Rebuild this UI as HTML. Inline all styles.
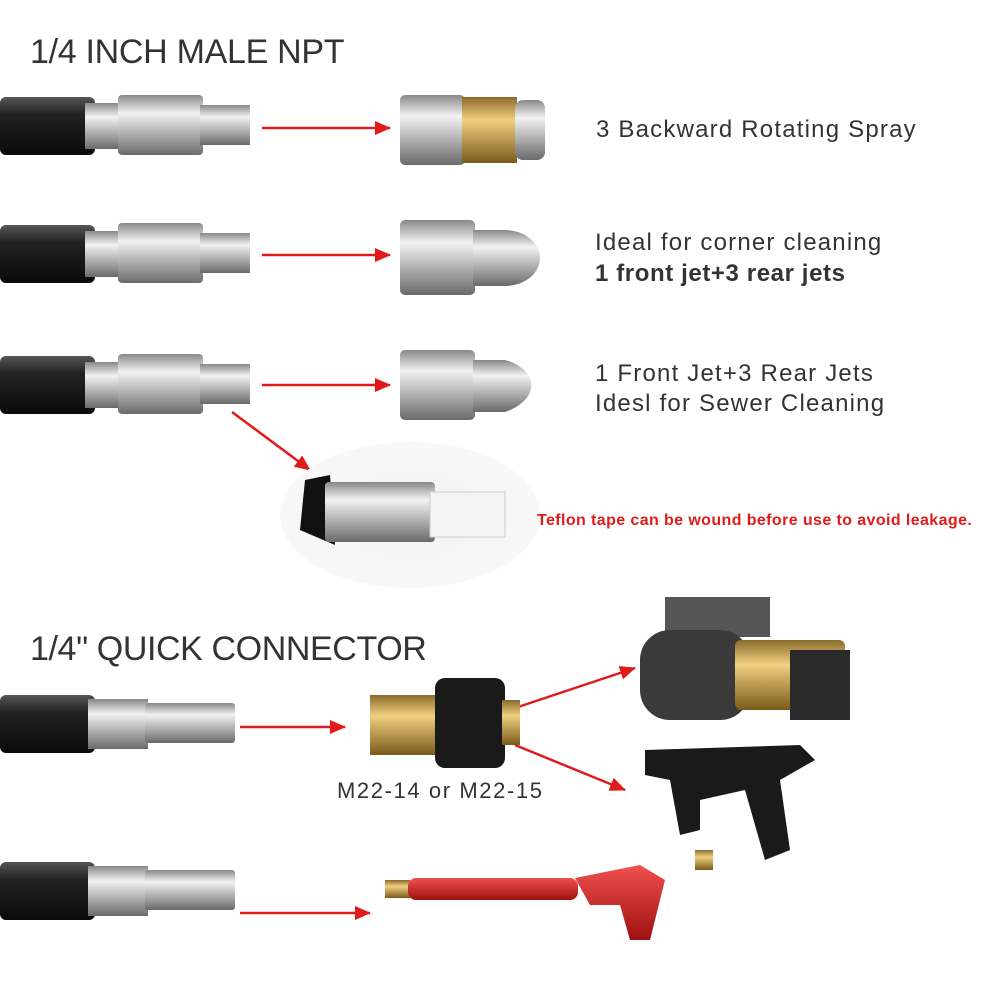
<!DOCTYPE html>
<html><head><meta charset="utf-8"><style>
body{margin:0;background:#fff;width:1000px;height:1000px;overflow:hidden;position:relative;font-family:"Liberation Sans",sans-serif;color:#333}
.t{position:absolute;white-space:nowrap}
</style></head><body>
<svg width="1000" height="1000" style="position:absolute;left:0;top:0">
<defs>
<linearGradient id="hose" x1="0" y1="0" x2="0" y2="1"><stop offset="0" stop-color="#555"/><stop offset=".3" stop-color="#222"/><stop offset="1" stop-color="#0a0a0a"/></linearGradient>
<linearGradient id="steel" x1="0" y1="0" x2="0" y2="1"><stop offset="0" stop-color="#888"/><stop offset=".3" stop-color="#f2f2f2"/><stop offset=".6" stop-color="#b8b8b8"/><stop offset="1" stop-color="#6a6a6a"/></linearGradient>
<linearGradient id="brass" x1="0" y1="0" x2="0" y2="1"><stop offset="0" stop-color="#8a6a2a"/><stop offset=".35" stop-color="#f0d080"/><stop offset="1" stop-color="#7a5a1a"/></linearGradient>
<linearGradient id="red" x1="0" y1="0" x2="0" y2="1"><stop offset="0" stop-color="#f05050"/><stop offset="1" stop-color="#a01010"/></linearGradient>
<radialGradient id="ell"><stop offset="0" stop-color="#f2f2f2"/><stop offset="1" stop-color="#f8f8f8"/></radialGradient>
<marker id="ah" markerWidth="16" markerHeight="14" refX="15" refY="7" orient="auto" markerUnits="userSpaceOnUse"><path d="M0,0 L16,7 L0,14 z" fill="#e01b1b"/></marker>
<g id="npt">
 <rect x="0" y="-28" width="95" height="58" rx="6" fill="url(#hose)"/>
 <rect x="85" y="-22" width="35" height="46" fill="url(#steel)"/>
 <rect x="118" y="-30" width="85" height="60" rx="4" fill="url(#steel)"/>
 <rect x="200" y="-20" width="50" height="40" fill="url(#steel)"/>
</g>
<g id="qc">
 <rect x="0" y="-28" width="95" height="58" rx="6" fill="url(#hose)"/>
 <rect x="88" y="-24" width="60" height="50" fill="url(#steel)"/>
 <rect x="145" y="-20" width="90" height="40" rx="3" fill="url(#steel)"/>
</g>
</defs>
<use href="#npt" y="125"/>
<use href="#npt" y="253"/>
<use href="#npt" y="384"/>
<g stroke="#e01b1b" stroke-width="2.5" marker-end="url(#ah)">
<line x1="262" y1="128" x2="390" y2="128"/>
<line x1="262" y1="255" x2="390" y2="255"/>
<line x1="262" y1="385" x2="390" y2="385"/>
<line x1="232" y1="412" x2="310" y2="470"/>
<line x1="240" y1="727" x2="345" y2="727"/>
<line x1="515" y1="708" x2="635" y2="668"/>
<line x1="515" y1="745" x2="625" y2="790"/>
<line x1="240" y1="913" x2="370" y2="913"/>
</g>
<rect x="400" y="95" width="65" height="70" rx="5" fill="url(#steel)"/>
<rect x="462" y="97" width="55" height="66" fill="url(#brass)"/>
<rect x="515" y="100" width="30" height="60" rx="8" fill="url(#steel)"/>
<rect x="400" y="220" width="75" height="75" rx="5" fill="url(#steel)"/>
<path d="M473,230 L505,230 A35,28 0 0 1 505,286 L473,286 z" fill="url(#steel)"/>
<rect x="400" y="350" width="75" height="70" rx="5" fill="url(#steel)"/>
<path d="M473,360 L505,360 C540,370 540,400 505,412 L473,412 z" fill="url(#steel)"/>
<ellipse cx="410" cy="515" rx="130" ry="73" fill="url(#ell)"/>
<path d="M305,480 L330,475 L335,545 L300,530 z" fill="#111"/>
<rect x="325" y="482" width="110" height="60" rx="4" fill="url(#steel)"/>
<rect x="430" y="492" width="75" height="45" fill="#f4f4f4" stroke="#ccc"/>
<use href="#qc" y="723"/>
<use href="#qc" y="890"/>
<rect x="370" y="695" width="70" height="60" fill="url(#brass)"/>
<rect x="435" y="678" width="70" height="90" rx="10" fill="#1a1a1a"/>
<rect x="502" y="700" width="18" height="45" fill="url(#brass)"/>
<rect x="665" y="597" width="105" height="40" fill="#555"/>
<rect x="640" y="630" width="110" height="90" rx="30" fill="#3a3a3a"/>
<rect x="735" y="640" width="110" height="70" rx="6" fill="url(#brass)"/>
<rect x="790" y="650" width="60" height="70" fill="#2a2a2a"/>
<path d="M645,750 L800,745 L815,760 L780,780 L790,850 L765,860 L745,790 L700,800 L700,830 L680,835 L670,780 L645,775 z" fill="#1a1a1a"/>
<rect x="695" y="850" width="18" height="20" fill="url(#brass)"/>
<rect x="385" y="880" width="25" height="18" fill="url(#brass)"/>
<rect x="408" y="878" width="170" height="22" rx="8" fill="url(#red)"/>
<path d="M575,878 L640,865 L665,880 L650,940 L630,940 L620,905 L590,905 z" fill="url(#red)"/>
</svg>
<div class="t" style="left:30px;top:33px;font-size:34px;letter-spacing:-0.3px">1/4 INCH MALE NPT</div>
<div class="t" style="left:596px;top:116px;font-size:24px;letter-spacing:1.2px">3 Backward Rotating Spray</div>
<div class="t" style="left:595px;top:229px;font-size:24px;letter-spacing:1.2px">Ideal for corner cleaning</div>
<div class="t" style="left:595px;top:260px;font-size:24px;font-weight:bold;letter-spacing:0.6px">1 front jet+3 rear jets</div>
<div class="t" style="left:595px;top:360px;font-size:24px;letter-spacing:1.2px">1 Front Jet+3 Rear Jets</div>
<div class="t" style="left:595px;top:390px;font-size:24px;letter-spacing:1.2px">Idesl for Sewer Cleaning</div>
<div class="t" style="left:537px;top:512px;font-size:16px;color:#e01b1b;font-weight:bold;letter-spacing:0.4px">Teflon tape can be wound before use to avoid leakage.</div>
<div class="t" style="left:30px;top:630px;font-size:34px;letter-spacing:-0.4px">1/4" QUICK CONNECTOR</div>
<div class="t" style="left:337px;top:778px;font-size:22px;letter-spacing:1.6px">M22-14 or M22-15</div>
</body></html>
